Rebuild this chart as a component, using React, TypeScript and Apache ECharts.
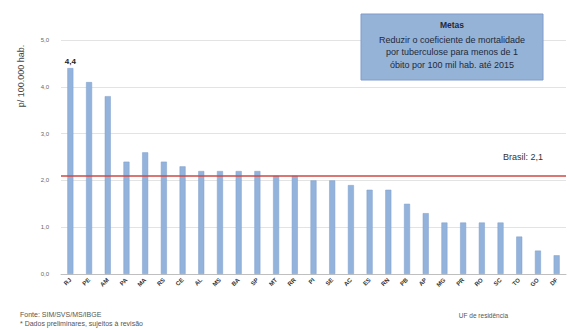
import React, { useEffect, useRef } from "react";
import * as echarts from "echarts";

// Coeficiente de mortalidade por tuberculose por UF de residência
const ufs = [
  "RJ", "PE", "AM", "PA", "MA", "RS", "CE", "AL", "MS", "BA", "SP", "MT", "RR", "PI",
  "SE", "AC", "ES", "RN", "PB", "AP", "MG", "PR", "RO", "SC", "TO", "GO", "DF",
];
const coeficientes = [
  4.4, 4.1, 3.8, 2.4, 2.6, 2.4, 2.3, 2.2, 2.2, 2.2, 2.2, 2.1, 2.1, 2.0,
  2.0, 1.9, 1.8, 1.8, 1.5, 1.3, 1.1, 1.1, 1.1, 1.1, 0.8, 0.5, 0.4,
];
const brasil = 2.1;
const yTicks = ["0,0", "1,0", "2,0", "3,0", "4,0", "5,0"];

const FONT = "Liberation Sans";

export default function App() {
  const ref = useRef<HTMLDivElement>(null);

  useEffect(() => {
    if (!ref.current) return;
    const chart = echarts.init(ref.current, null, { renderer: "svg" });
    chart.setOption({
      animation: false,
      textStyle: { fontFamily: FONT },
      grid: { left: 61, right: 4, top: 40, bottom: 55 },
      xAxis: {
        type: "category",
        data: ufs,
        axisLine: { lineStyle: { color: "#bfbfbf" } },
        axisTick: { show: false },
        axisLabel: {
          rotate: 45,
          interval: 0,
          fontSize: 6,
          fontWeight: "bold",
          color: "#333",
          margin: 5,
        },
      },
      yAxis: {
        type: "value",
        min: 0,
        max: 5,
        interval: 1,
        axisLine: { show: false },
        axisTick: { show: false },
        splitLine: { lineStyle: { color: "#e3e3e3", width: 1 } },
        axisLabel: {
          fontSize: 6,
          color: "#666",
          margin: 12,
          formatter: (v: number) => yTicks[Math.round(v)] ?? "",
        },
      },
      series: [
        {
          type: "bar",
          data: coeficientes.map((v, i) => ({
            value: v,
            label: {
              show: i === 0,
              position: "top",
              distance: 3,
              fontSize: 8,
              fontWeight: "bold",
              color: "#222",
              formatter: (p: any) => String(p.value).replace(".", ","),
            },
          })),
          barWidth: 6,
          itemStyle: { color: "#93b3dc", borderColor: "#7f9fcb", borderWidth: 0.5 },
          markLine: {
            symbol: "none",
            silent: true,
            label: { show: false },
            lineStyle: { color: "#cf4a45", width: 1.5, type: "solid" },
            data: [{ yAxis: brasil }],
          },
        },
      ],
      graphic: [
        {
          type: "text",
          x: 21,
          y: 76,
          rotation: Math.PI / 2,
          style: {
            text: "p/ 100.000 hab.",
            fontSize: 9,
            fill: "#444",
            fontFamily: FONT,
            align: "center",
            verticalAlign: "middle",
          },
        },
        {
          type: "group",
          z: 100,
          children: [
            {
              type: "rect",
              z: 100,
              shape: { x: 361, y: 14, width: 182, height: 66 },
              style: { fill: "#95b3d7", stroke: "#7f9ccc", lineWidth: 1 },
            },
            {
              type: "text",
              z: 101,
              x: 452,
              y: 25,
              style: {
                text: "Metas",
                fontSize: 8.5,
                fontWeight: "bold",
                fill: "#1f2a3c",
                fontFamily: FONT,
                align: "center",
                verticalAlign: "middle",
              },
            },
            {
              type: "text",
              z: 101,
              x: 452,
              y: 52,
              style: {
                text:
                  "Reduzir o coeficiente de mortalidade\npor tuberculose para menos de 1\nóbito por 100 mil hab. até 2015",
                fontSize: 9,
                lineHeight: 12.5,
                fill: "#1f2a3c",
                fontFamily: FONT,
                align: "center",
                verticalAlign: "middle",
              },
            },
          ],
        },
        {
          type: "text",
          x: 543,
          y: 157,
          style: {
            text: "Brasil: 2,1",
            fontSize: 9,
            fill: "#333",
            fontFamily: FONT,
            align: "right",
            verticalAlign: "middle",
          },
        },
        {
          type: "text",
          x: 20,
          y: 314,
          style: {
            text: "Fonte: SIM/SVS/MS/IBGE",
            fontSize: 7,
            fill: "#555",
            fontFamily: FONT,
            verticalAlign: "middle",
          },
        },
        {
          type: "text",
          x: 20,
          y: 323,
          style: {
            text: "* Dados preliminares, sujeitos à revisão",
            fontSize: 7,
            fill: "#555",
            fontFamily: FONT,
            verticalAlign: "middle",
          },
        },
        {
          type: "text",
          x: 508,
          y: 315,
          style: {
            text: "UF de residência",
            fontSize: 6.5,
            fill: "#555",
            fontFamily: FONT,
            align: "right",
            verticalAlign: "middle",
          },
        },
      ],
    });
    return () => chart.dispose();
  }, []);

  return (
    <div
      ref={ref}
      style={{ position: "fixed", left: 0, top: 0, width: 570, height: 329, background: "#fff" }}
    />
  );
}
